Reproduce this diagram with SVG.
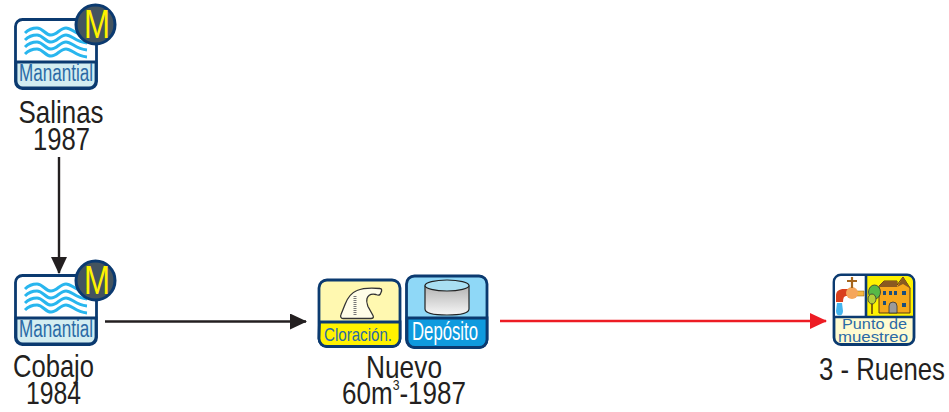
<svg xmlns="http://www.w3.org/2000/svg" width="949" height="412" viewBox="0 0 949 412">
<style>
.lb{font-family:"Liberation Sans",Arial,sans-serif;font-size:32px;fill:#231f20;text-anchor:middle}
.in{font-family:"Liberation Sans",Arial,sans-serif;fill:#2b6aa6;text-anchor:middle}
.wave{fill:none;stroke:#29b6ee;stroke-width:3}
.edge{fill:none;stroke-width:2.4}
.frame{stroke:#0b3a70;stroke-width:2.8}
.sep{fill:none;stroke:#0b3a70;stroke-width:2.6}
</style>
<defs>
<marker id="ak" markerUnits="userSpaceOnUse" markerWidth="18" markerHeight="16" refX="16" refY="8" orient="auto"><path d="M0 0L17 8L0 16z" fill="#231f20"/></marker>
<marker id="ar" markerUnits="userSpaceOnUse" markerWidth="18" markerHeight="16" refX="16" refY="8" orient="auto"><path d="M0 0L17 8L0 16z" fill="#ed1c24"/></marker>
<linearGradient id="tank" x1="0" y1="0" x2="0" y2="1"><stop offset="0" stop-color="#b4b4b4"/><stop offset="1" stop-color="#f6f6f6"/></linearGradient>
<g id="man">
<rect x="15.500" y="19.500" width="81" height="69" rx="7" fill="#fff" class="frame"/>
<path d="M16 62H96V81a7 7 0 0 1-7 7H23a7 7 0 0 1-7-7z" fill="#d3edf1" class="frame"/>
<path id="w" class="wave" d="M25 33C29 29 33 28 37 28C43 28 45 35 51 35C57 35 60 28 66 28C72 28 75 35 87 36"/>
<use href="#w" y="7"/>
<use href="#w" y="14"/>
<use href="#w" y="21"/>
<text class="in" x="56" y="80.500" font-size="23.500" textLength="74" lengthAdjust="spacingAndGlyphs">Manantial</text>
<circle cx="95.500" cy="24.500" r="19.500" fill="#44545f" stroke="#0b3a70" stroke-width="3"/>
<text x="97" y="38" font-family="Liberation Sans,Arial,sans-serif" font-size="40" fill="#fff200" text-anchor="middle" textLength="26" lengthAdjust="spacingAndGlyphs">M</text>
</g>
</defs>
<g id="connectors">
<path class="edge" stroke="#231f20" marker-end="url(#ak)" d="M59 157V273"/>
<path class="edge" stroke="#231f20" marker-end="url(#ak)" d="M105 321.500H306"/>
<path class="edge" stroke="#ed1c24" marker-end="url(#ar)" d="M500 321H826"/>
</g>
<g id="salinas">
<use href="#man"/>
<text class="lb" x="61" y="123" textLength="85" lengthAdjust="spacingAndGlyphs">Salinas</text>
<text class="lb" x="61.500" y="150" textLength="57" lengthAdjust="spacingAndGlyphs">1987</text>
</g>
<g id="cobajo">
<use href="#man" y="256"/>
<text class="lb" x="53.500" y="377" textLength="81" lengthAdjust="spacingAndGlyphs">Cobajo</text>
<text class="lb" x="53.500" y="404" textLength="55" lengthAdjust="spacingAndGlyphs">1984</text>
</g>
<g id="cloracion">
<rect x="319" y="280" width="81" height="66.500" rx="8" fill="#fff8b0" class="frame"/>
<path d="M319.500 322H400V338.500a8 8 0 0 1-8 8H327a8 8 0 0 1-8-8z" fill="#fff200" class="frame"/>
<path d="M343 318.500c-2 0-3-2-2-4l4-10c3-8 7-12 12-14c7-3 13-3 23-2c2 0 2 2 1 4l-1 2c-1 1-2 1-4 0c-5-1-8 1-9 4c-1 3 0 5 1 8l5 9c1 2 0 3-2 3z" fill="#fffde8" stroke="#333" stroke-width="1.300"/>
<path d="M355 296V316" stroke="#777" stroke-width="3" stroke-dasharray="1 1" fill="none"/>
<text class="in" x="358" y="341" font-size="19" textLength="68" lengthAdjust="spacingAndGlyphs">Cloración.</text>
</g>
<g id="deposito">
<rect x="406.500" y="276" width="80.500" height="71.500" rx="8" fill="#8fd8f7" class="frame"/>
<path d="M407 318H487V339.500a8 8 0 0 1-8 8H415a8 8 0 0 1-8-8z" fill="#0f9ade" class="frame"/>
<path d="M425 286V309c0 4 9 6 22 6s22-2 22-6V286z" fill="url(#tank)" stroke="#222" stroke-width="1.200"/>
<ellipse cx="447" cy="285.500" rx="22" ry="5.500" fill="#a9dff2" stroke="#222" stroke-width="1.200"/>
<text x="445" y="340" font-family="Liberation Sans,Arial,sans-serif" font-size="25" fill="#fff" text-anchor="middle" textLength="66" lengthAdjust="spacingAndGlyphs">Depósito</text>
</g>
<g id="nuevo">
<text class="lb" x="404" y="378" textLength="76" lengthAdjust="spacingAndGlyphs">Nuevo</text>
<text class="lb" x="404" y="404" textLength="124" lengthAdjust="spacingAndGlyphs">60m<tspan font-size="15" dy="-14">3</tspan><tspan dy="14">-1987</tspan></text>
</g>
<g id="punto">
<rect x="834" y="275" width="80" height="69.500" rx="7" fill="#fffbd0" class="frame"/>
<path d="M835 282a6 6 0 0 1 6-6H866V317H835z" fill="#fff"/>
<path d="M866 276H907a6 6 0 0 1 6 6V317H866z" fill="#fff200"/>
<path class="sep" d="M835 317H913M866 276V317"/>
<path d="M836 302V296c0-5 3-7 8-7H852V296H846c-2 0-3 2-3 6z" fill="#d9401e"/>
<path d="M852 291H864V296H852z" fill="#f5b642" stroke="#8a5a10" stroke-width="0.500"/>
<circle cx="852" cy="293" r="6" fill="#f5a65b"/>
<path d="M852 277V288M847 281H857" stroke="#a5651d" stroke-width="2.200" fill="none"/>
<path d="M837 303h5l1 8c0 6-7 6-7 0z" fill="#45b5ee"/>
<path d="M879 313V286L884 281H897V285L903 277L910 288V313z" fill="#f6a81c" stroke="#5b3a10" stroke-width="1"/>
<path d="M879 286L884 281H897V287H880z" fill="#8a5a20"/>
<path d="M897 287L903 277L911 289L903 284z" fill="#8a5a20"/>
<ellipse cx="874.500" cy="292" rx="6" ry="7" fill="#57b947" stroke="#333" stroke-width="0.800"/>
<path d="M872 303V314" stroke="#5b3a10" stroke-width="1.500" fill="none"/>
<ellipse cx="872" cy="299" rx="4" ry="5" fill="#b5cf3a" stroke="#333" stroke-width="0.800"/>
<path d="M889 313V306a4 4 0 0 1 8 0V313z" fill="#9a9a9a" stroke="#333" stroke-width="0.800"/>
<path d="M883 291h3v4h-3zM889 291h3v4h-3zM894 291h3v4h-3zM902 291h4v4h-4zM902 303h4v4h-4zM883 301h3v4h-3z" fill="#1c4f7c"/>
<text class="in" x="874.500" y="329" font-size="15" textLength="65" lengthAdjust="spacingAndGlyphs">Punto de</text>
<text class="in" x="873" y="342" font-size="15" textLength="70" lengthAdjust="spacingAndGlyphs">muestreo</text>
<text class="lb" x="882" y="380" textLength="126" lengthAdjust="spacingAndGlyphs">3 - Ruenes</text>
</g>
</svg>
